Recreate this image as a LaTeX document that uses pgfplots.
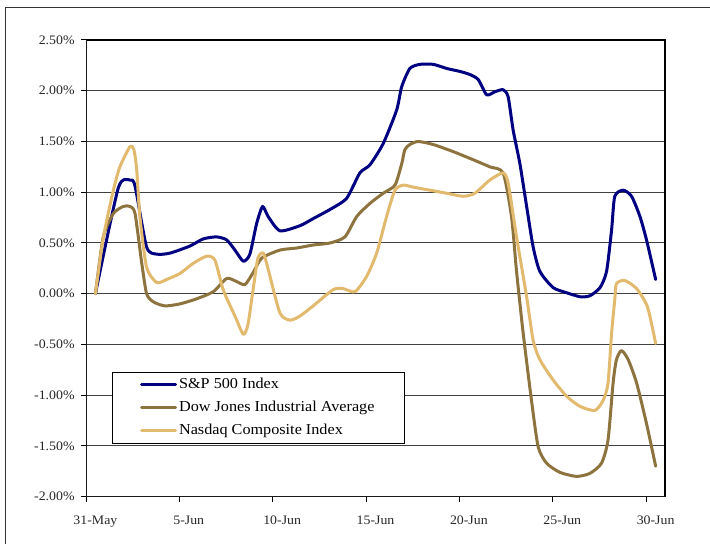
\documentclass[border=0pt]{standalone}
\usepackage{pgfplots}
\pgfplotsset{compat=1.18}
\usepackage{fontspec}
\setmainfont{Liberation Serif}[FakeStretch=1.07]
\definecolor{spc}{RGB}{0,0,128}
\definecolor{dowc}{RGB}{141,115,62}
\definecolor{nasc}{RGB}{226,186,110}
\begin{document}
\begin{tikzpicture}
\useasboundingbox (0,0) rectangle (710bp,544bp);
\draw[line width=1bp, black!80] (5bp,0) -- (5bp,536bp) -- (710bp,536bp);
\begin{axis}[
  at={(86.1bp,47.3bp)}, anchor=south west,
  scale only axis, width=578.9bp, height=456.7bp,
  xmin=0, xmax=31, ymin=-2, ymax=2.5,
  xtick={0,5,10,15,20,25,30},
  xticklabels={31-May,5-Jun,10-Jun,15-Jun,20-Jun,25-Jun,30-Jun},
  ytick={-2,-1.5,...,2.5},
  yticklabel={\pgfmathprintnumber[fixed,fixed zerofill,precision=2]{\tick}\%},
  /pgf/number format/assume math mode=true,
  xtick pos=left, ytick pos=left,
  tick align=outside,
  major tick length=5bp,
  tick style={black, line width=1bp},
  xticklabel style={font=\fontsize{13}{15}\selectfont, xshift=9.3bp, yshift=-11bp, text=black!85},
  yticklabel style={font=\fontsize{13}{15}\selectfont, xshift=-3bp, text=black!85},
  ymajorgrids,
  major grid style={line width=1bp, black!75},
  axis line style={line width=1.2bp, black},
  legend cell align=left,
  legend image code/.code={\draw[#1] (0bp,0bp) -- (34bp,0bp);},
  legend style={at={(0.0442,0.2724)}, anchor=north west, draw=black, line width=0.8bp, fill=white,
    font=\fontsize{15.2}{17}\selectfont, inner xsep=28bp, inner ysep=3.5bp, row sep=5.5bp,
    nodes={inner sep=2bp, text height=10.5bp, text depth=3bp}},
  every axis plot/.append style={line width=3bp, line join=round, line cap=round, smooth, tension=0.4, no markers},
]
\addplot[spc] coordinates {
(0.5,0) (1.72,1.04) (2.35,1.12) (2.62,1.06) (3.24,0.46) (3.78,0.39) (4.49,0.40) (5.56,0.47) (6.27,0.54) (6.99,0.56) (7.53,0.53) (7.97,0.43) (8.42,0.32) (8.77,0.39) (9.13,0.69) (9.45,0.86) (9.75,0.76) (10.38,0.62) (11.45,0.67) (12.16,0.74) (13.06,0.83) (13.95,0.94) (14.66,1.19) (15.20,1.27) (15.91,1.48) (16.63,1.81) (16.90,2.04) (17.34,2.22) (17.88,2.26) (18.59,2.26) (19.30,2.22) (20.02,2.19) (20.55,2.16) (21.00,2.11) (21.45,1.96) (21.89,1.99) (22.33,2.01) (22.60,1.94) (22.87,1.61) (23.23,1.28) (23.59,0.86) (23.94,0.46) (24.30,0.22) (25.01,0.06) (25.73,0.01) (26.45,-0.03) (26.98,-0.02) (27.52,0.06) (27.87,0.22) (28.14,0.63) (28.31,0.96) (28.76,1.02) (29.21,0.96) (29.66,0.76) (30.01,0.53) (30.5,0.14)
};
\addlegendentry{S\&P 500 Index}
\addplot[dowc] coordinates {
(0.5,0) (0.92,0.56) (1.46,0.79) (1.99,0.86) (2.35,0.86) (2.62,0.79) (2.98,0.30) (3.24,0.00) (3.60,-0.08) (4.22,-0.12) (5.03,-0.10) (5.92,-0.05) (6.81,0.02) (7.53,0.15) (8.06,0.12) (8.51,0.09) (8.95,0.21) (9.40,0.35) (10.38,0.43) (11.27,0.45) (12.16,0.48) (13.06,0.50) (13.86,0.56) (14.49,0.76) (15.20,0.89) (15.91,0.99) (16.54,1.07) (16.90,1.28) (17.07,1.42) (17.34,1.47) (17.78,1.50) (18.59,1.47) (19.66,1.40) (20.73,1.32) (21.62,1.25) (22.33,1.19) (22.78,0.76) (23.05,0.22) (23.40,-0.38) (23.85,-1.05) (24.21,-1.51) (24.66,-1.67) (25.37,-1.76) (26.26,-1.80) (26.98,-1.77) (27.60,-1.67) (27.95,-1.44) (28.22,-0.88) (28.40,-0.65) (28.67,-0.56) (29.03,-0.65) (29.48,-0.88) (30.01,-1.28) (30.5,-1.70)
};
\addlegendentry{Dow Jones Industrial Average}
\addplot[nasc] coordinates {
(0.5,0) (0.92,0.55) (1.46,1.02) (1.81,1.25) (2.35,1.45) (2.56,1.42) (2.71,1.22) (2.88,0.76) (3.24,0.26) (3.78,0.11) (4.31,0.14) (5.03,0.20) (5.74,0.30) (6.46,0.37) (6.90,0.33) (7.34,0.04) (7.97,-0.22) (8.42,-0.40) (8.67,-0.30) (8.95,0.05) (9.20,0.35) (9.49,0.40) (9.75,0.24) (10.38,-0.19) (10.92,-0.26) (11.45,-0.22) (12.16,-0.12) (13.23,0.04) (13.77,0.05) (14.40,0.02) (15.02,0.17) (15.56,0.40) (16.09,0.76) (16.54,1.02) (16.98,1.07) (17.52,1.05) (18.41,1.02) (19.30,0.99) (20.19,0.96) (20.82,0.99) (21.62,1.12) (22.33,1.19) (22.60,1.09) (23.05,0.56) (23.59,-0.03) (23.94,-0.46) (24.30,-0.65) (25.01,-0.85) (25.73,-1.01) (26.45,-1.11) (27.25,-1.15) (27.69,-1.05) (27.95,-0.88) (28.14,-0.39) (28.31,-0.06) (28.40,0.10) (28.85,0.13) (29.48,0.05) (30.06,-0.13) (30.5,-0.49)
};
\addlegendentry{Nasdaq Composite Index}
\draw[line width=2bp, black!90] (rel axis cs:0,1) -- (rel axis cs:0,0) -- (rel axis cs:1,0);
\end{axis}
\end{tikzpicture}
\end{document}
